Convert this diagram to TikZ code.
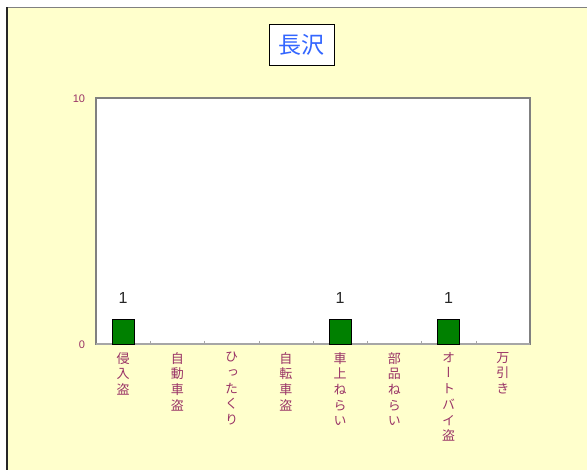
\documentclass[tikz,border=0pt]{standalone}
\usepackage{fontspec}
\setmainfont{Liberation Sans}
\newfontfamily\jpfont{Noto Sans CJK JP}
\newfontfamily\jpvert[RawFeature=+vert]{Noto Sans CJK JP}
\usetikzlibrary{positioning}
\definecolor{chartbg}{HTML}{FFFFCC}
\definecolor{axislabel}{HTML}{993366}
\definecolor{titleblue}{HTML}{3366FF}
\definecolor{bargreen}{HTML}{008000}

\begin{document}
\begin{tikzpicture}[x=1pt,y=-1pt]
		\tikzstyle{catn} = [anchor=north, inner sep=0pt, align=center, text=axislabel,
		font=\jpvert\fontsize{13}{15.7}\selectfont];
		\tikzstyle{barn} = [draw=black, fill=bargreen, anchor=south, inner sep=0pt,
		minimum width=22pt, minimum height=24.5pt];
		\tikzstyle{valn} = [inner sep=0pt, font=\fontsize{16}{16}\selectfont, text=black!85];
		\useasboundingbox (0,0) rectangle (587,470);
		\fill[white] (0,0) rectangle (587,470);
		\fill[chartbg] (7,7.5) rectangle (587,470);
		\draw[gray, line width=1.5pt] (7,7.5) -- (587,7.5);
		\draw[black!85, line width=1.2pt] (7,7.5) -- (7,470);
		% plot area
		\draw[gray, line width=2pt, fill=white] (96,98.5) rectangle (530,344);
		\draw[gray!70, line width=2.5pt] (96,344) -- (530,344);
		\draw[gray!70] (150.25,341) -- (150.25,344) (204.5,341) -- (204.5,344)
			(258.75,341) -- (258.75,344) (313,341) -- (313,344) (367.25,341) -- (367.25,344)
			(421.5,341) -- (421.5,344) (475.75,341) -- (475.75,344);
		\node[text=axislabel, font=\fontsize{11}{11}\selectfont] (ymax) at (79,99) {10};
		\node[text=axislabel, font=\fontsize{11}{11}\selectfont] (ymin) at (82,345) {0};
		% title
		\node[draw=black, fill=white, minimum width=65pt, minimum height=41pt, inner sep=0pt,
			text=titleblue, font=\jpfont\fontsize{23}{23}\selectfont] (title) at (301.4,45) {長沢};
		% bars
		\node[barn] (bar1) at (123.1,344) {};
		\node[barn] (bar5) at (340.1,344) {};
		\node[barn] (bar7) at (448.6,344) {};
		\node[valn] (val1) at (123.1,298) {1};
		\node[valn] (val5) at (340.1,298) {1};
		\node[valn] (val7) at (448.6,298) {1};
		% categories
		\node[catn] (shinnyu) at (123.1,352) {侵\\入\\盗};
		\node[catn] (jidosha) at (177.4,352) {自\\動\\車\\盗};
		\node[catn] (hittakuri) at (231.6,352) {ひ\\っ\\た\\く\\り};
		\node[catn] (jitensha) at (285.9,352) {自\\転\\車\\盗};
		\node[catn] (shajo) at (340.1,352) {車\\上\\ね\\ら\\い};
		\node[catn] (buhin) at (394.4,352) {部\\品\\ね\\ら\\い};
		\node[catn] (autobai) at (448.6,352) {オ\\ー\\ト\\バ\\イ\\盗};
		\node[catn] (manbiki) at (502.9,352) {万\\引\\き};
	\end{tikzpicture}
\end{document}
